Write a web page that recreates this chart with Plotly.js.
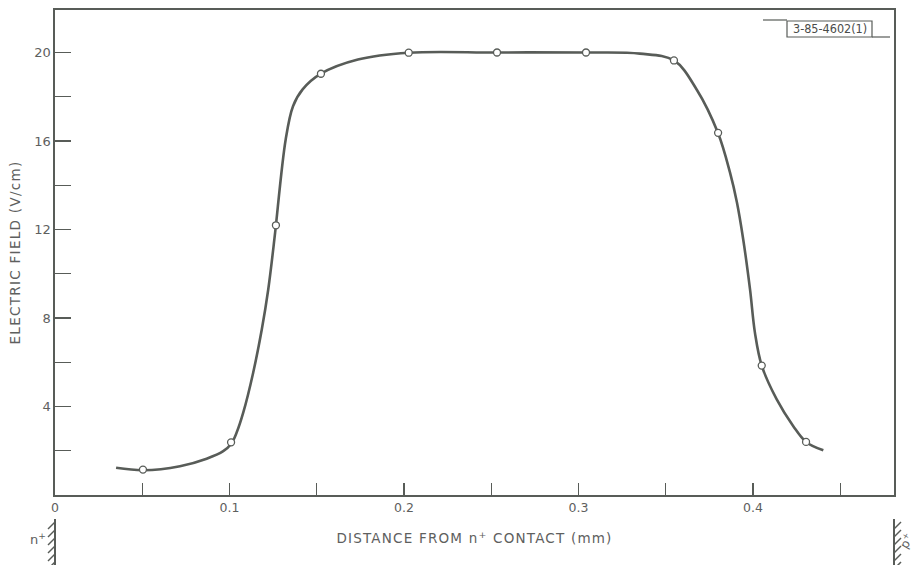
<!DOCTYPE html>
<html>
<head>
<meta charset="utf-8">
<script src="https://cdn.plot.ly/plotly-3.0.1.min.js"></script>
<style>
html,body{margin:0;padding:0;background:#fff;}
#chart{width:916px;height:565px;}
.xtitle{letter-spacing:1.2px;}
.ytitle{letter-spacing:1.3px;}
</style>
</head>
<body>
<div id="chart"></div>
<script>
// Measured points (open circles)
const pointX = [0.0504, 0.1009, 0.1266, 0.1524, 0.2027, 0.2533, 0.3043, 0.3547, 0.3800, 0.4050, 0.4304];
const pointY = [1.15, 2.38, 12.19, 19.04, 19.99, 20.0, 20.0, 19.64, 16.37, 5.85, 2.40];

// Hand-drawn smooth curve
const curveX = [0.0350, 0.0506, 0.0716, 0.0869, 0.0964, 0.1011, 0.1041, 0.1079, 0.1136, 0.1185, 0.1222, 0.1257, 0.1266, 0.1322, 0.1364, 0.1419, 0.1524, 0.1736, 0.2027, 0.2533, 0.3043, 0.3352, 0.3547, 0.3677, 0.3799, 0.3868, 0.3908, 0.3944, 0.3983, 0.4011, 0.4050, 0.4136, 0.4231, 0.4304, 0.4403];
const curveY = [1.23, 1.12, 1.30, 1.64, 1.98, 2.33, 2.82, 3.73, 5.54, 7.48, 9.29, 11.55, 12.19, 16.07, 17.57, 18.33, 19.04, 19.68, 19.99, 20.0, 20.0, 19.95, 19.64, 18.33, 16.37, 14.58, 13.22, 11.55, 9.29, 7.34, 5.85, 4.32, 3.11, 2.40, 2.02];

// Labelled ticks and unlabelled (minor) ticks
const xTickVals = [0, 0.1, 0.2, 0.3, 0.4];
const xTickText = ["0", "0.1", "0.2", "0.3", "0.4"];
const xMinorVals = [0.05, 0.15, 0.25, 0.35, 0.45];
const yTickVals = [4, 8, 12, 16, 20];
const yTickText = ["4", "8", "12", "16", "20"];
const yMinorVals = [2, 6, 10, 14, 18];

const xTitle = "DISTANCE FROM n<sup>+</sup> CONTACT (mm)";
const yTitle = "ELECTRIC FIELD (V/cm)";
const stampText = "3-85-4602(1)";

const INK = "#585c58";
const TXT = "#5e605e";
const FONT = "DejaVu Sans, Liberation Sans, sans-serif";

// pixel -> paper helpers for decorations outside the plot
const L = 55, R = 894, T = 10, B = 495;
const px = v => (v - L) / (R - L);
const py = v => (B - v) / (B - T);

const shapes = [];
function seg(x0, y0, x1, y1, w) {
  shapes.push({type: "line", xref: "paper", yref: "paper",
    x0: px(x0), y0: py(y0), x1: px(x1), y1: py(y1),
    line: {color: INK, width: w || 1.5}});
}
// n+ contact hatching
seg(55, 519, 55, 565, 2);
for (let y = 522; y < 565; y += 8) seg(55, y, 48, y + 7, 1.5);
// p+ contact hatching
seg(894, 519, 894, 565, 2);
for (let y = 522; y < 565; y += 8) seg(894, y + 7, 901, y, 1.5);
// stamp box
shapes.push({type: "rect", xref: "paper", yref: "paper",
  x0: px(787), y0: py(37), x1: px(872), y1: py(21),
  line: {color: INK, width: 1.2}});
seg(763, 20, 787, 20, 1.2);
seg(872, 37, 890, 37, 1.2);

const annotations = [
  {xref: "paper", yref: "paper", x: px(829.5), y: py(29), xanchor: "center", yanchor: "middle",
   text: stampText, showarrow: false,
   font: {family: "DejaVu Sans Condensed, DejaVu Sans, sans-serif", size: 12.5, color: "#4a4c4a"}},
  {xref: "paper", yref: "paper", x: px(38), y: py(539), xanchor: "center", yanchor: "middle",
   text: "n<sup>+</sup>", showarrow: false,
   font: {family: FONT, size: 13, color: TXT}},
  {xref: "paper", yref: "paper", x: px(906), y: py(541), xanchor: "center", yanchor: "middle",
   text: "p<sup>+</sup>", showarrow: false,
   textangle: -60, font: {family: FONT, size: 12, color: TXT}}
];

const data = [
  {x: curveX, y: curveY, type: "scatter", mode: "lines",
   line: {color: INK, width: 2.6, shape: "spline", smoothing: 1.0},
   hoverinfo: "skip", showlegend: false},
  {x: pointX, y: pointY, type: "scatter", mode: "markers",
   marker: {symbol: "circle", size: 7, color: "#ffffff", line: {color: INK, width: 1.3}},
   showlegend: false}
];

const layout = {
  width: 916, height: 565,
  margin: {l: L, r: 916 - R, t: T, b: 565 - B, pad: 0},
  paper_bgcolor: "#ffffff", plot_bgcolor: "#ffffff",
  showlegend: false,
  font: {family: FONT, color: TXT, size: 13},
  xaxis: {
    range: [0, (R - L) / 1745], showgrid: false, zeroline: false,
    showline: true, linecolor: INK, linewidth: 1.6, mirror: true,
    ticks: "inside", ticklen: 12, tickwidth: 1.4, tickcolor: INK,
    tickmode: "array", tickvals: xTickVals, ticktext: xTickText,
    minor: {tickmode: "array", tickvals: xMinorVals, ticks: "inside", ticklen: 12, tickwidth: 1.4, tickcolor: INK, showgrid: false},
    tickfont: {family: FONT, size: 12.5, color: TXT},
    title: {text: xTitle, font: {family: FONT, size: 13.5, color: TXT}, standoff: 20}
  },
  yaxis: {
    range: [0, (B - T) / 22.125], showgrid: false, zeroline: false,
    showline: true, linecolor: INK, linewidth: 1.6, mirror: true,
    ticks: "inside", ticklen: 16, tickwidth: 1.4, tickcolor: INK,
    tickmode: "array", tickvals: yTickVals, ticktext: yTickText,
    minor: {tickmode: "array", tickvals: yMinorVals, ticks: "inside", ticklen: 16, tickwidth: 1.4, tickcolor: INK, showgrid: false},
    tickfont: {family: FONT, size: 13, color: TXT},
    title: {text: yTitle, font: {family: FONT, size: 13.5, color: TXT}, standoff: 10}
  },
  shapes: shapes,
  annotations: annotations
};

Plotly.newPlot("chart", data, layout, {staticPlot: true, displayModeBar: false});
</script>
</body>
</html>
